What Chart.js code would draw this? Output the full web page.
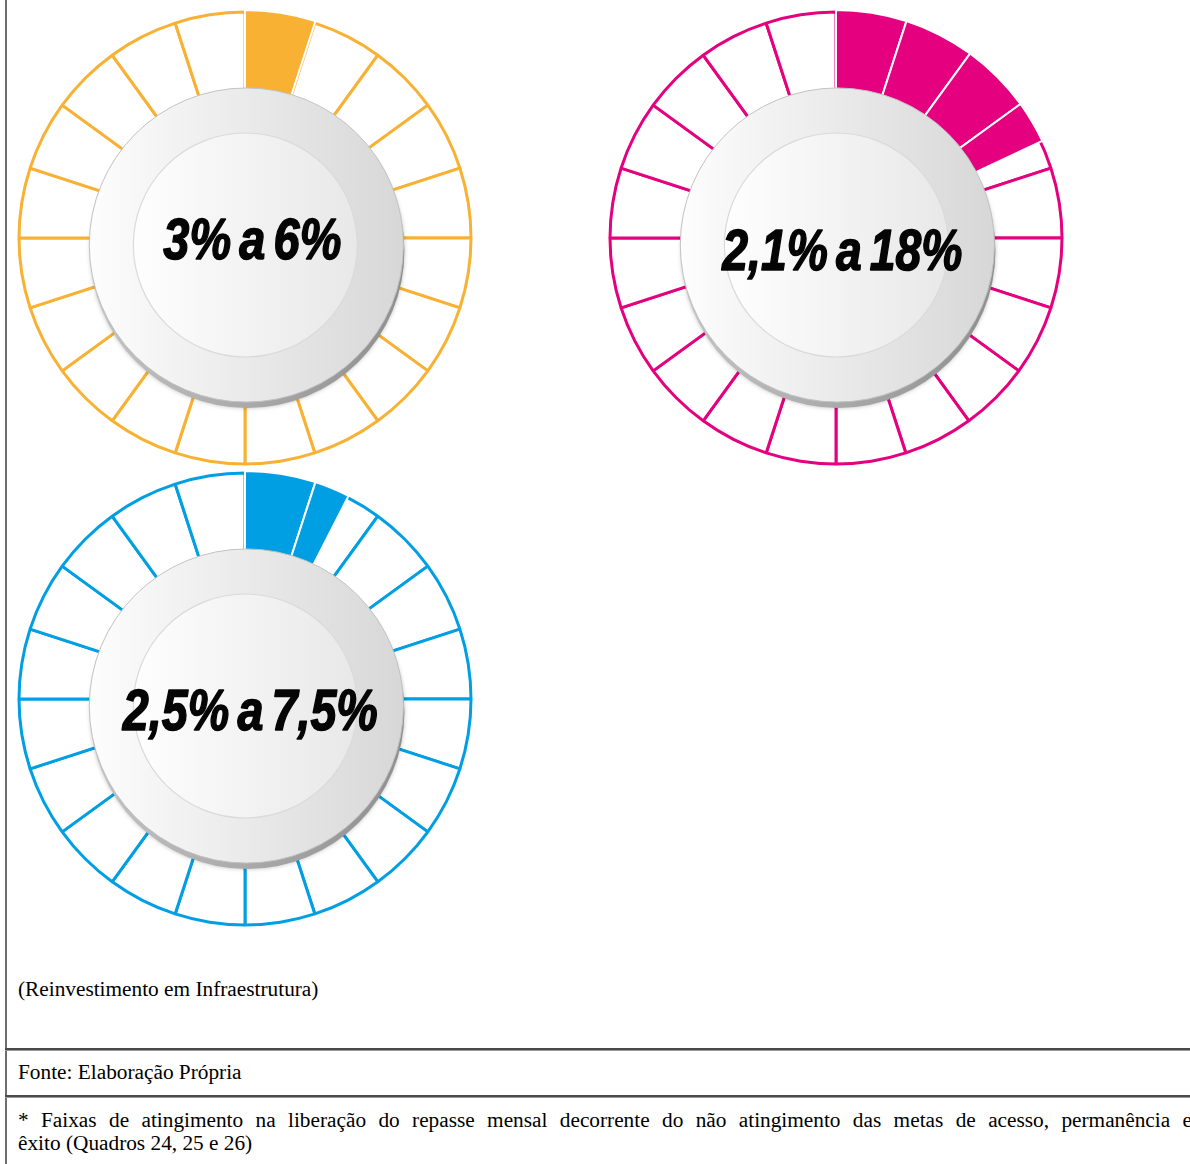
<!DOCTYPE html>
<html>
<head>
<meta charset="utf-8">
<script src="https://cdn.jsdelivr.net/npm/chart.js@4/dist/chart.umd.min.js"></script>
<style>
  html, body { margin: 0; padding: 0; background: #fff; }
  body { width: 1190px; height: 1164px; position: relative; overflow: hidden; font-family: "Liberation Serif", "Times New Roman", serif; color: #000; }
  .leftline { position: absolute; left: 5px; top: 0; width: 2px; height: 1164px; background: #6e6e6e; }
  .gauge { position: absolute; width: 470px; height: 470px; }
  .gauge canvas { position: absolute; left: 0; top: 0; }
  .txt { position: absolute; left: 18px; font-size: 21.3px; line-height: 23px; white-space: nowrap; }
  .just { width: 1174px; text-align: justify; text-align-last: justify; white-space: normal; }
  .hr { position: absolute; left: 5px; width: 1200px; height: 2px; background: #4a4a4a; border-bottom: 1px solid #9a9a9a; }
</style>
</head>
<body>
<div class="leftline"></div>

<div class="gauge" style="left:10px; top:3px;"><canvas id="ring0"></canvas><canvas id="fill0"></canvas></div>
<div class="gauge" style="left:601px; top:3px;"><canvas id="ring1"></canvas><canvas id="fill1"></canvas></div>
<div class="gauge" style="left:10px; top:464px;"><canvas id="ring2"></canvas><canvas id="fill2"></canvas></div>

<div class="txt" style="top:978px;">(Reinvestimento em Infraestrutura)</div>
<div class="hr" style="top:1048px;"></div>
<div class="txt" style="top:1061px;">Fonte: Elaboração Própria</div>
<div class="hr" style="top:1095px;"></div>
<div class="txt just" style="top:1109px;">* Faixas de atingimento na liberação do repasse mensal decorrente do não atingimento das metas de acesso, permanência e</div>
<div class="txt" style="top:1132px;">êxito (Quadros 24, 25 e 26)</div>

<script>
// 20 fatias iguais (5% cada) em cada mostrador
const segments = [5, 5, 5, 5, 5, 5, 5, 5, 5, 5, 5, 5, 5, 5, 5, 5, 5, 5, 5, 5];
// parte preenchida de cada mostrador (% do anel, a partir do topo)
const fillValues = [5, 18, 7.5];
// texto no centro de cada mostrador
const centerLabels = ['3% a 6%', '2,1% a 18%', '2,5% a 7,5%'];
const gaugeColors = ['#F8B133', '#E4007F', '#009FE3'];

// quebra o valor em pedaços de uma fatia, para sobrar a linha branca entre eles
function fillPieces(value) {
    const pieces = [];
    let left = value;
    for (let i = 0; i < segments.length && left > 0; i++) {
        const p = Math.min(segments[i], left);
        pieces.push(p);
        left -= p;
    }
    const total = segments.reduce((a, b) => a + b, 0);
    pieces.push(total - value);
    return pieces;
}

// "botão" cinza por cima do anel, com o texto
const hubPlugin = {
    id: 'hub',
    afterDatasetsDraw(chart, args, opts) {
        const arc = chart.getDatasetMeta(0).data[0];
        if (!arc) return;
        const ctx = chart.ctx;
        const R = opts.R;
        const r = R * 0.695;
        const hx = arc.x + R * 0.006;
        const hy = arc.y + R * 0.031;

        ctx.save();
        // borda inferior / sombra
        ctx.beginPath();
        ctx.arc(hx + 1, hy + 6, r, 0, Math.PI * 2);
        let g = ctx.createLinearGradient(hx - r, 0, hx + r, 0);
        g.addColorStop(0, '#c4c4c4');
        g.addColorStop(1, '#8f8f8f');
        ctx.fillStyle = g;
        ctx.shadowColor = 'rgba(0,0,0,0.25)';
        ctx.shadowBlur = 4;
        ctx.fill();
        ctx.shadowColor = 'transparent';

        // disco principal
        ctx.beginPath();
        ctx.arc(hx, hy, r, 0, Math.PI * 2);
        g = ctx.createLinearGradient(hx - r, 0, hx + r, 0);
        g.addColorStop(0, '#fdfdfd');
        g.addColorStop(1, '#d7d7d7');
        ctx.fillStyle = g;
        ctx.fill();
        ctx.lineWidth = 1;
        ctx.strokeStyle = '#c2c2c2';
        ctx.stroke();

        // disco interno
        const ri = r * 0.713;
        ctx.beginPath();
        ctx.arc(hx - 1, hy, ri, 0, Math.PI * 2);
        g = ctx.createLinearGradient(hx - ri, 0, hx + ri, 0);
        g.addColorStop(0, '#fefefe');
        g.addColorStop(1, '#e8e8e8');
        ctx.fillStyle = g;
        ctx.fill();
        ctx.lineWidth = 1.2;
        ctx.strokeStyle = '#dadada';
        ctx.stroke();

        // texto (condensado na horizontal, traço extra para ficar mais "black")
        ctx.font = 'italic bold 58px "Liberation Sans", Arial, sans-serif';
        ctx.fillStyle = '#050505';
        ctx.strokeStyle = '#050505';
        ctx.lineWidth = 1.6;
        ctx.lineJoin = 'round';
        ctx.textAlign = 'center';
        ctx.textBaseline = 'alphabetic';
        if ('wordSpacing' in ctx) ctx.wordSpacing = '-6px';
        const w = ctx.measureText(opts.text).width;
        ctx.translate(hx + opts.dx, hy + opts.dy);
        ctx.scale(opts.width / w, 1);
        ctx.fillText(opts.text, 0, 0);
        ctx.strokeText(opts.text, 0, 0);
        ctx.restore();
    }
};

const textStyle = [
    { dx: 6, dy: 14, width: 178 },
    { dx: 5, dy: 25, width: 240 },
    { dx: 4, dy: 24, width: 255 }
];

centerLabels.forEach(function(label, k) {
    const color = gaugeColors[k];
    const pieces = fillPieces(fillValues[k]);
    const last = pieces.length - 1;

    // anel de fatias
    new Chart(document.getElementById('ring' + k), {
        type: 'doughnut',
        data: {
            labels: segments.map((v, i) => String(i + 1)),
            datasets: [{
                data: segments,
                backgroundColor: '#ffffff',
                borderColor: color,
                borderWidth: 3,
                hoverOffset: 0
            }]
        },
        options: {
            responsive: true,
            maintainAspectRatio: true,
            animation: false,
            events: [],
            radius: 226,
            cutout: 140,
            plugins: { legend: { display: false }, tooltip: { enabled: false } }
        }
    });

    // parte preenchida + botão central
    new Chart(document.getElementById('fill' + k), {
        type: 'doughnut',
        data: {
            labels: pieces.map((v, i) => String(i + 1)),
            datasets: [{
                data: pieces,
                backgroundColor: pieces.map((v, i) => i < last ? color : 'rgba(0,0,0,0)'),
                borderColor: pieces.map((v, i) => i < last ? '#ffffff' : 'rgba(0,0,0,0)'),
                borderWidth: pieces.map((v, i) => i < last ? 2 : 0),
                hoverOffset: 0
            }]
        },
        options: {
            responsive: true,
            maintainAspectRatio: true,
            animation: false,
            events: [],
            radius: 228,
            cutout: 140,
            plugins: {
                legend: { display: false },
                tooltip: { enabled: false },
                hub: Object.assign({ text: label, R: 226 }, textStyle[k])
            }
        },
        plugins: [hubPlugin]
    });
});
</script>
</body>
</html>
